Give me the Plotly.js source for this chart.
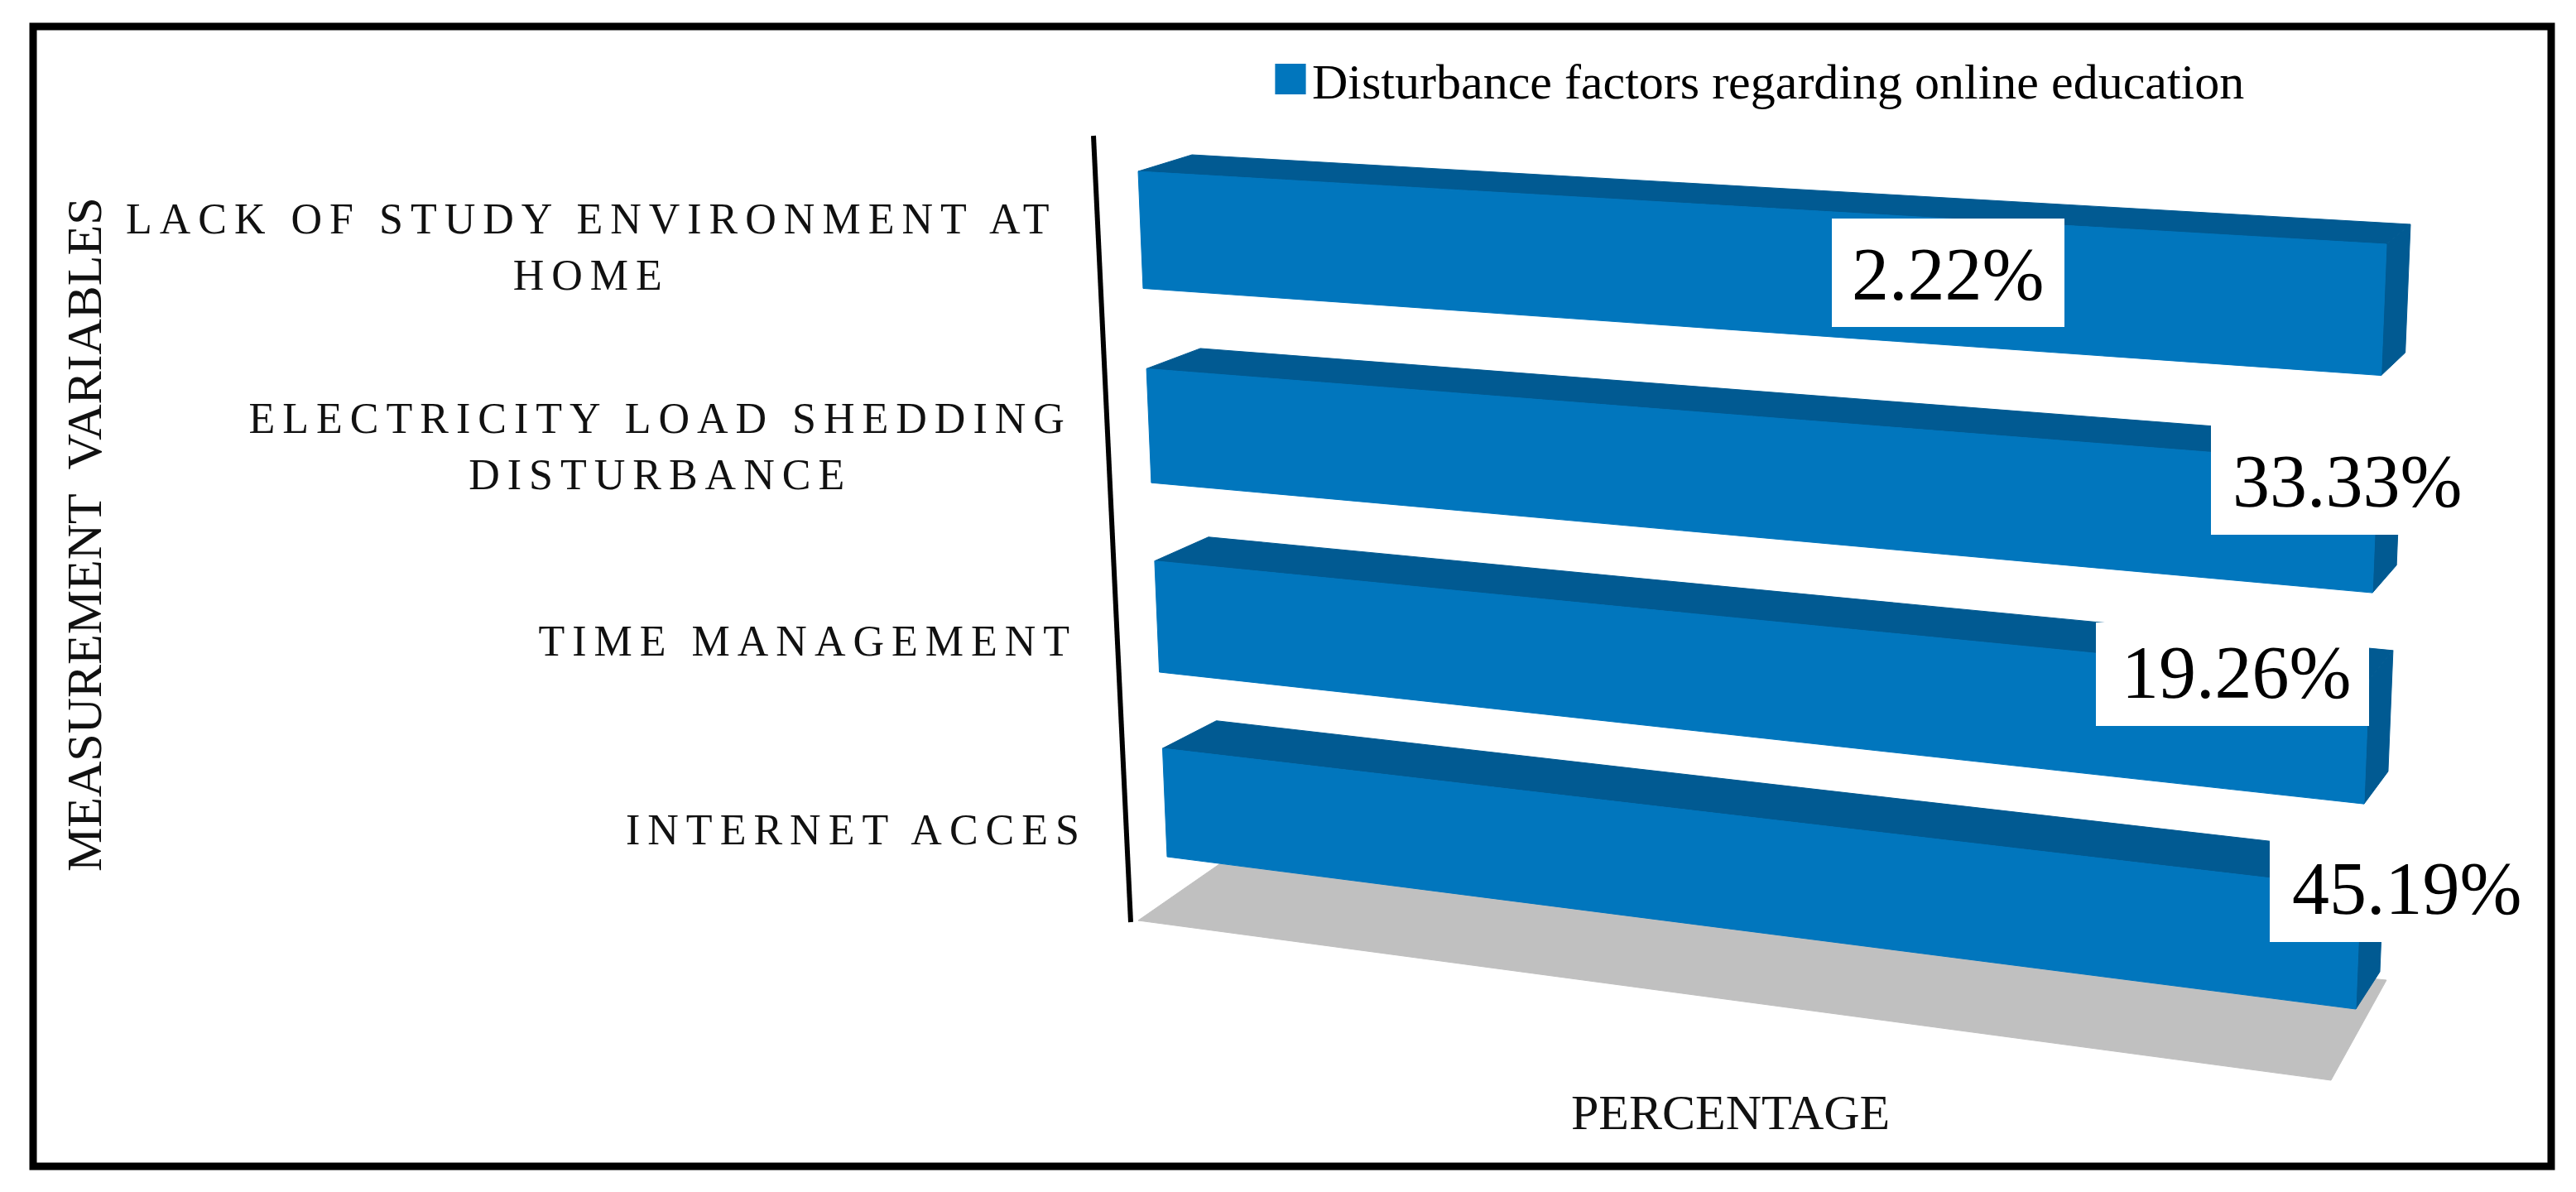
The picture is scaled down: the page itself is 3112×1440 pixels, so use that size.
<!DOCTYPE html>
<html><head><meta charset="utf-8">
<script src="https://cdn.plot.ly/plotly-3.0.1.min.js"></script>
<style>
html,body{margin:0;padding:0;background:#fff}
.annotation[data-index="0"] text,.annotation[data-index="1"] text,.annotation[data-index="2"] text,.annotation[data-index="3"] text{letter-spacing:9px}
.legendpoints path{transform:translate(26px,0) scale(3.1) !important}
</style></head><body><div id="chart" style="width:3112px;height:1440px"></div>
<script>
// ---- data ----
var categories = ['LACK OF STUDY ENVIRONMENT AT<br>HOME','ELECTRICITY LOAD SHEDDING<br>DISTURBANCE','TIME MANAGEMENT','INTERNET ACCES'];
var barExtent = [100,100,100,100];           // 100 % stacked: every bar fills the axis
var valueLabels = ['2.22%','33.33%','19.26%','45.19%'];
var seriesName = 'Disturbance factors regarding online education';
var xTitle = 'PERCENTAGE';
var yTitle = 'MEASUREMENT\u00a0 VARIABLES';

// ---- view: perspective of the 3-D chart box ----
var W = 3112, H = 1440, barThick = 0.59, span = 3 + barThick;
var quad = [[1375,207],[2883,295],[2846,1219],[1410,1035]];
function solve(q){
  var dx1=q[1][0]-q[2][0],dx2=q[3][0]-q[2][0],sx=q[0][0]-q[1][0]+q[2][0]-q[3][0];
  var dy1=q[1][1]-q[2][1],dy2=q[3][1]-q[2][1],sy=q[0][1]-q[1][1]+q[2][1]-q[3][1];
  var det=dx1*dy2-dx2*dy1, g=(sx*dy2-dx2*sy)/det, h=(dx1*sy-sx*dy1)/det;
  return {a:q[1][0]-q[0][0]+g*q[1][0],b:q[3][0]-q[0][0]+h*q[3][0],c:q[0][0],
          d:q[1][1]-q[0][1]+g*q[1][1],e:q[3][1]-q[0][1]+h*q[3][1],f:q[0][1],g:g,h:h};
}
var M = solve(quad);
function lerp(a,b,t){return a+(b-a)*t;}
function project(value,w,back){
  var u=value/100,t=w/span,den=M.g*u+M.h*t+1;
  var x=(M.a*u+M.b*t+M.c)/den,y=(M.d*u+M.e*t+M.f)/den;
  if(back){x+=lerp(65,29,u);y-=lerp(20,36,t)+u*lerp(4,9,t);}
  return [x,y];
}
function face(pts,color){
  return {type:'scatter',mode:'lines',x:pts.map(function(p){return p[0];}).concat(pts[0][0]),
    y:pts.map(function(p){return p[1];}).concat(pts[0][1]),fill:'toself',fillcolor:color,
    line:{color:color,width:1},showlegend:false,hoverinfo:'skip'};
}
var blue='#0176BD', dark='#015A92', grey='#C0C0C0';
var floorCorners=[[1375,1112],[1473,1044],[2883,1184],[2816,1305]];
var traces=[face(floorCorners,grey)];
categories.forEach(function(c,i){
  var v=barExtent[i],a=i,b=i+barThick;
  traces.push(face([project(v,a,0),project(v,a,1),project(v,b,1),project(v,b,0)],dark));
  traces.push(face([project(0,a,0),project(0,a,1),project(v,a,1),project(v,a,0)],dark));
  traces.push(face([project(0,a,0),project(v,a,0),project(v,b,0),project(0,b,0)],blue));
});
traces.push({type:'bar',orientation:'h',x:[null],y:[null],name:seriesName,marker:{color:blue},hoverinfo:'skip'});

// ---- text placement ----
var catCenter=[714,797,976,1034], catMid=[298,539,774,1002];
var serif='"Liberation Serif","Times New Roman",serif';
var ann=categories.map(function(c,i){
  return {text:c,x:catCenter[i],y:catMid[i],xref:'x',yref:'y',xanchor:'center',yanchor:'middle',align:'center',
    showarrow:false,font:{family:serif,size:52,color:'#111'}};
});
var boxes=[[2213,2494,264,395],[2671,3000,514,646],[2532,2862,752,877],[2742,3060,1014,1138]];
var labelX=[2353,2835,2701,2907], labelY=[331,581,812,1073];
valueLabels.forEach(function(t,i){
  ann.push({text:t,x:labelX[i],y:labelY[i],xref:'x',yref:'y',showarrow:false,font:{family:serif,size:90,color:'#000'}});
});
ann.push({text:xTitle,x:2090,y:1344,xref:'x',yref:'y',showarrow:false,font:{family:serif,size:60,color:'#111'}});
ann.push({text:yTitle,x:102,y:646,xref:'x',yref:'y',textangle:-90,showarrow:false,font:{family:serif,size:60,color:'#111'}});

var shapes=boxes.map(function(b){
  return {type:'rect',xref:'x',yref:'y',x0:b[0],x1:b[1],y0:b[2],y1:b[3],fillcolor:'#fff',line:{width:0},layer:'above'};
});
shapes.push({type:'rect',xref:'paper',yref:'paper',x0:40/W,x1:3082/W,y0:1-32/H,y1:1-1409/H,line:{color:'#000',width:9},layer:'above'});
shapes.push({type:'line',xref:'x',yref:'y',x0:1321,y0:164,x1:1366,y1:1114,line:{color:'#000',width:6}});

var layout={width:W,height:H,margin:{l:0,r:0,t:0,b:0},paper_bgcolor:'#fff',plot_bgcolor:'#fff',
  xaxis:{range:[0,W],visible:false,fixedrange:true},
  yaxis:{range:[H,0],visible:false,fixedrange:true},
  showlegend:true,
  legend:{x:1533/W,y:1-50/H,xanchor:'left',yanchor:'top',itemwidth:42,bgcolor:'rgba(0,0,0,0)',font:{family:serif,size:60,color:'#000'}},
  annotations:ann,shapes:shapes};
Plotly.newPlot('chart',traces,layout,{displayModeBar:false,staticPlot:true});
</script></body></html>
